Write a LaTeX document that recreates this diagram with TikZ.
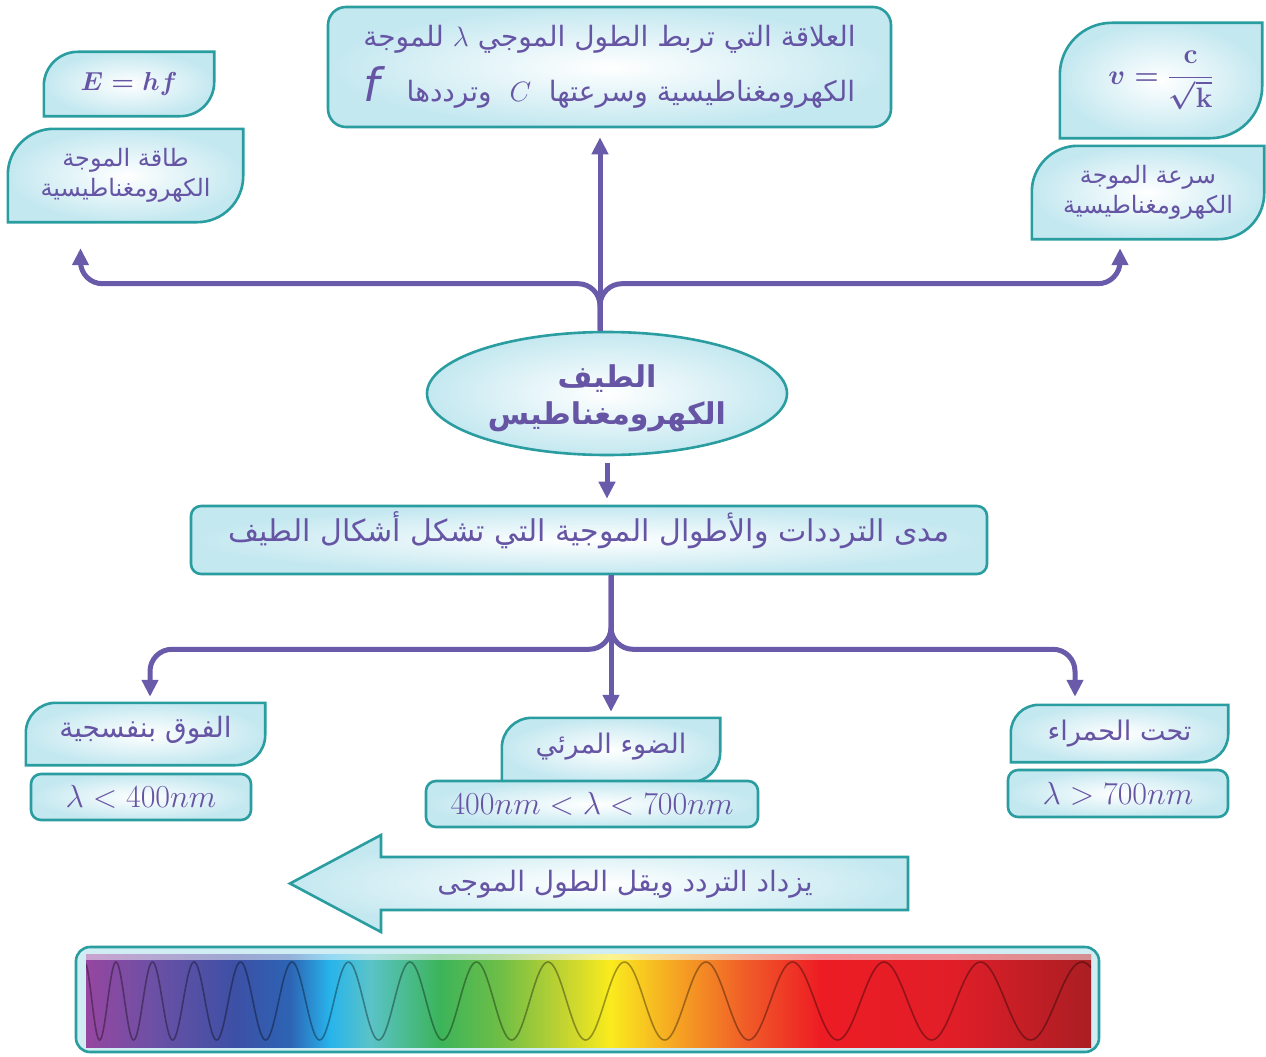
\documentclass[tikz,border=0pt]{standalone}
\usepackage{fix-cm}
\usepackage{amsmath}
\usepackage{fontspec}
\usetikzlibrary{shapes.geometric,arrows.meta,backgrounds}

\TeXXeTstate=1
\newfontfamily\arabicfont[Script=Arabic]{DejaVu Sans}
\newcommand\artext[1]{{\arabicfont\beginR #1\endR}}

\definecolor{edgeteal}{RGB}{42,157,160}
\definecolor{inkpurple}{RGB}{102,84,164}
\definecolor{flowpurple}{RGB}{106,90,170}
\definecolor{boxblue}{RGB}{196,232,240}

% colours of the spectrum strip
\definecolor{sva}{RGB}{150,70,160}
\definecolor{svb}{RGB}{110,80,165}
\definecolor{svc}{RGB}{60,80,165}
\definecolor{svd}{RGB}{45,100,180}
\definecolor{sve}{RGB}{40,180,235}
\definecolor{svf}{RGB}{90,195,200}
\definecolor{svg}{RGB}{60,180,90}
\definecolor{svh}{RGB}{110,190,70}
\definecolor{svi}{RGB}{190,210,50}
\definecolor{svj}{RGB}{250,235,30}
\definecolor{svk}{RGB}{245,160,35}
\definecolor{svl}{RGB}{240,90,40}
\definecolor{svm}{RGB}{237,28,36}
\definecolor{svn}{RGB}{225,30,40}
\definecolor{svo}{RGB}{170,30,35}
\pgfdeclarehorizontalshading{spectrum}{100bp}{color(0bp)=(sva); color(25bp)=(sva);
  color(28.18bp)=(svb); color(32.46bp)=(svc); color(35.15bp)=(svd); color(37.14bp)=(sve);
  color(39.13bp)=(svf); color(42.61bp)=(svg); color(45.6bp)=(svh); color(48.58bp)=(svi);
  color(51.07bp)=(svj); color(54.55bp)=(svk); color(57.94bp)=(svl); color(61.52bp)=(svm);
  color(67.99bp)=(svn); color(75bp)=(svo); color(100bp)=(svo)}

% box with two round corners (top left, bottom right)
\newcommand\leafoutline[2]{%
  \path[boxline,boxfill] (#1.south west) -- ([yshift=-#2]#1.north west)
    arc[start angle=180,end angle=90,radius=#2] -- (#1.north east)
    -- ([yshift=#2]#1.south east) arc[start angle=0,end angle=-90,radius=#2] -- cycle;}

\tikzset{
  boxline/.style={draw=edgeteal, line width=2.6pt},
  boxfill/.style={inner color=white, outer color=boxblue},
  roundbox/.style={boxline, boxfill, rectangle, rounded corners=#1},
  roundbox/.default=10pt,
  leafbox/.style={rectangle, inner sep=0pt},
  inktext/.style={text=inkpurple, align=center},
  mathrange/.style={roundbox, inktext, inner sep=1pt, font=\fontsize{32}{34}\selectfont},
  flow/.style={draw=flowpurple, line width=5pt, rounded corners=22pt, -{Triangle[length=17pt,width=16pt]}},
  waveline/.style={draw=black, opacity=0.35, line width=1.6pt},
}

\begin{document}
\begin{tikzpicture}[x=1pt,y=1pt]
	\useasboundingbox (0,0) rectangle (1266,-1057);
	
	%top box
	\node[roundbox=18pt, minimum width=563pt, minimum height=120pt, inktext, font=\fontsize{28}{55}\selectfont] (relation) at (609.5,-67)
	{\artext{العلاقة التي تربط الطول الموجي $\lambda$ للموجة}\\
	 \artext{الكهرومغناطيسية وسرعتها\ \ $C$\ \ وترددها\ \ \ {\fontsize{46}{46}\selectfont\itshape f}}};
	
	%left side
	\node[leafbox, minimum width=170pt, minimum height=64pt, inktext, font=\fontsize{26}{30}\selectfont\boldmath] (energyeq) at (129,-84) {$E = hf$};
	\node[leafbox, minimum width=235pt, minimum height=93pt, inktext, font=\fontsize{24}{30}\selectfont] (energytxt) at (125.5,-175.5)
	{\artext{طاقة الموجة}\\ \artext{الكهرومغناطيسية}};
	
	%right side
	\node[leafbox, minimum width=202pt, minimum height=115pt, inktext, font=\fontsize{28}{32}\selectfont\boldmath] (speedeq) at (1161,-80.5)
	{$v = \dfrac{\mathbf{c}}{\sqrt{\mathbf{k}}}$};
	\node[leafbox, minimum width=232pt, minimum height=93pt, inktext, font=\fontsize{24}{30}\selectfont] (speedtxt) at (1148,-192.5)
	{\artext{سرعة الموجة}\\ \artext{الكهرومغناطيسية}};
	
	%centre
	\node[ellipse, boxline, boxfill, minimum width=360pt, minimum height=123pt] (spectrum) at (607,-393.5) {};
	\node[inktext, font=\fontsize{30}{37}\selectfont\bfseries] (spectrumname) at (607,-398)
	{\artext{الطيف}\\ \artext{الكهرومغناطيس}};
	\node[roundbox, minimum width=796pt, minimum height=68pt, text depth=26pt, inktext, font=\fontsize{30}{34}\selectfont] (range) at (589,-540)
	{\artext{مدى الترددات والأطوال الموجية التي تشكل أشكال الطيف}};
	
	%bands
	\node[leafbox, minimum width=239pt, minimum height=62pt, text depth=14pt, inktext, font=\fontsize{28}{30}\selectfont] (uv) at (145.5,-734) {\artext{الفوق بنفسجية}};
	\node[mathrange, minimum width=220pt, minimum height=46pt] (uvrange) at (141,-797) {$\lambda < 400nm$};
	\node[leafbox, minimum width=218pt, minimum height=64pt, text depth=14pt, inktext, font=\fontsize{27}{30}\selectfont] (vis) at (611,-750) {\artext{الضوء المرئي}};
	\node[mathrange, minimum width=332pt, minimum height=46pt] (visrange) at (592,-804) {$400nm < \lambda < 700nm$};
	\node[leafbox, minimum width=217pt, minimum height=57pt, inktext, font=\fontsize{27}{30}\selectfont] (ir) at (1119.5,-733.5) {\artext{تحت الحمراء}};
	\node[mathrange, minimum width=220pt, minimum height=47pt] (irrange) at (1118,-793.5) {$\lambda > 700nm$};
	
	\begin{scope}[on background layer]
		\leafoutline{energyeq}{34pt}
		\leafoutline{energytxt}{46pt}
		\leafoutline{speedeq}{52pt}
		\leafoutline{speedtxt}{46pt}
		\leafoutline{uv}{30pt}
		\leafoutline{vis}{30pt}
		\leafoutline{ir}{28pt}
	\end{scope}
	
	%connectors
	\coordinate (stem) at ([xshift=-7pt]spectrum.north);
	\draw[flow, shorten >=9pt] (stem) -- (stem |- relation.south);
	\draw[flow] (stem) -- ++(0,47) -| ([xshift=-45pt,yshift=-26pt]energytxt.south);
	\draw[flow] (stem) -- ++(0,47) -| ([xshift=-28pt,yshift=-9pt]speedtxt.south);
	\draw[flow, shorten <=7pt, shorten >=6pt] (spectrum.south) -- (spectrum.south |- range.north);
	
	\coordinate (fork) at (vis.north |- range.south);
	\draw[flow, shorten >=6pt] (fork) -- (vis.north);
	\draw[flow] (fork) -- ++(0,-74) -| ([xshift=4.5pt,yshift=6pt]uv.north);
	\draw[flow] (fork) -- ++(0,-74) -| ([xshift=-44.5pt,yshift=8pt]ir.north);
	
	%wide arrow
	\path[boxline, boxfill] (908,-857) -- (381,-857) -- (381,-835) -- (290,-883.5) -- (381,-932) -- (381,-910) -- (908,-910) -- cycle;
	\node[inktext, font=\fontsize{28}{30}\selectfont] (trend) at (625,-884) {\artext{يزداد التردد ويقل الطول الموجى}};
	
	%spectrum strip
	\node[boxline, fill=boxblue!80, rectangle, rounded corners=14pt, minimum width=1023pt, minimum height=105pt] (band) at (587.5,-999.5) {};
	\begin{scope}
		\clip (86,-954) rectangle (1091,-1047);
		\shade[shading=spectrum] (86,-954) rectangle (1091,-1047);
		\draw[waveline] plot[domain=-0.95:14.09, samples=700, variable=\t] ({116+34*\t+2.5*\t*\t}, {-1001+39*cos(360*\t)});
		\shade[top color=white, bottom color=white, opacity=0.5] (86,-954) rectangle (1091,-959);
	\end{scope}
	
\end{tikzpicture}
\end{document}
